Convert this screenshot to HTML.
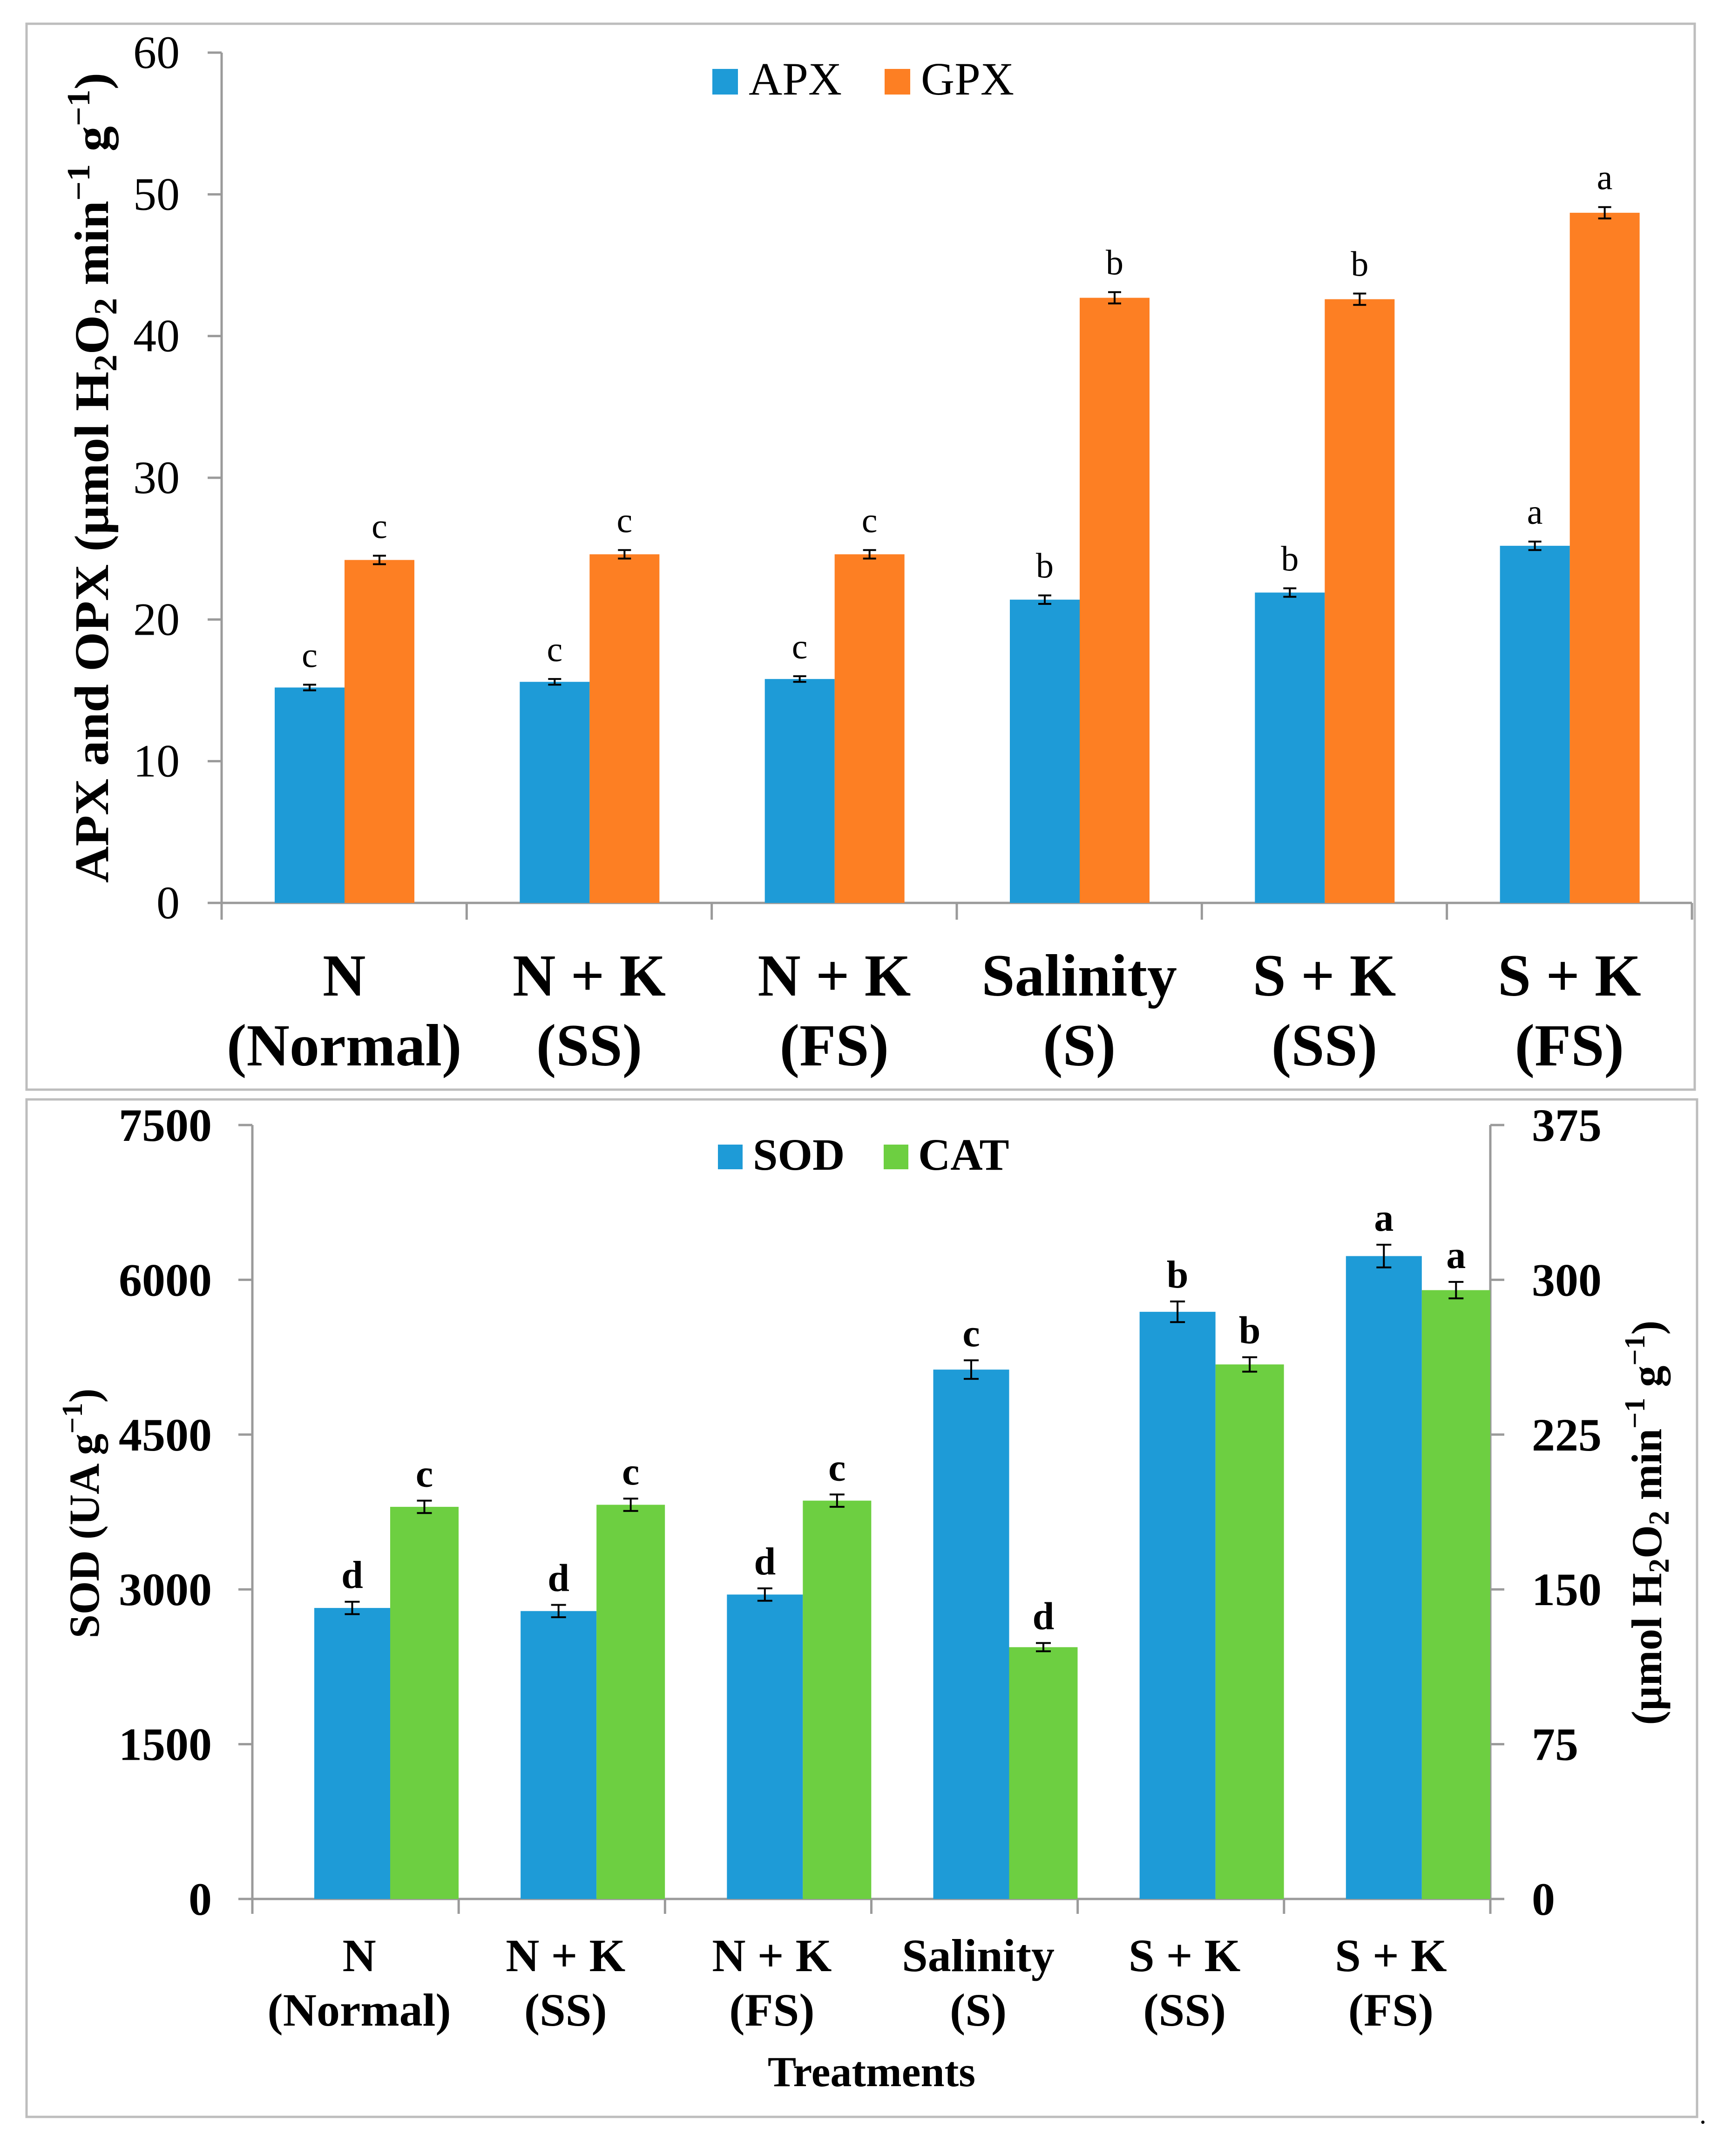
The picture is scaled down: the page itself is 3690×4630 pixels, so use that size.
<!DOCTYPE html>
<html><head><meta charset="utf-8"><style>
html,body{margin:0;padding:0;background:#fff;}
svg{display:block;font-family:"Liberation Serif","Times New Roman",serif;}
</style></head><body>
<svg id="fig" width="3690" height="4630" viewBox="0 0 3690 4630" xmlns="http://www.w3.org/2000/svg">
<rect x="57" y="51" width="3583" height="2289" fill="#fff" stroke="#bdbdbd" stroke-width="5"/>
<rect x="57" y="2361" width="3588" height="2185" fill="#fff" stroke="#bdbdbd" stroke-width="5"/>
<g id="top"></g>
<g id="bot"></g>
<text transform="translate(232,1026) rotate(-90)" text-anchor="middle" font-weight="bold" font-size="104" textLength="1740" lengthAdjust="spacingAndGlyphs">APX and OPX (µmol H<tspan font-size="70" dy="18">2</tspan><tspan dy="-18">O</tspan><tspan font-size="70" dy="18">2</tspan><tspan dy="-18"> min</tspan><tspan font-size="70" dy="-40">−1</tspan><tspan dy="40"> g</tspan><tspan font-size="70" dy="-40">−1</tspan><tspan dy="40">)</tspan></text>
<g>
<rect x="1530" y="148" width="55" height="55" fill="#1E9BD7"/>
<text x="1608" y="203" font-size="100">APX</text>
<rect x="1900" y="148" width="55" height="55" fill="#FD7F23"/>
<text x="1978" y="203" font-size="100">GPX</text>
</g>
<g>
<rect x="1542" y="2458" width="53" height="53" fill="#1E9BD7"/>
<text x="1617" y="2512" font-size="96" font-weight="bold">SOD</text>
<rect x="1898" y="2458" width="53" height="53" fill="#6DCF41"/>
<text x="1972" y="2512" font-size="96" font-weight="bold">CAT</text>
</g>
<text transform="translate(212,3250) rotate(-90)" text-anchor="middle" font-weight="bold" font-size="92">SOD (UA g<tspan font-size="62" dy="-36">−1</tspan><tspan dy="36">)</tspan></text>
<text transform="translate(3568,3270) rotate(-90)" text-anchor="middle" font-weight="bold" font-size="92">(µmol H<tspan font-size="62" dy="16">2</tspan><tspan dy="-16">O</tspan><tspan font-size="62" dy="16">2</tspan><tspan dy="-16"> min</tspan><tspan font-size="62" dy="-36">−1</tspan><tspan dy="36"> g</tspan><tspan font-size="62" dy="-36">−1</tspan><tspan dy="36">)</tspan></text>
<text x="1872" y="4480" text-anchor="middle" font-weight="bold" font-size="92">Treatments</text>
<text x="3650" y="4560" font-size="60">.</text>
</svg>
<script>
const categories1 = ["N","(Normal)"];
const catLine1 = ["N","N + K","N + K","Salinity","S + K","S + K"];
const catLine2 = ["(Normal)","(SS)","(FS)","(S)","(SS)","(FS)"];
const apxValues = [15.2, 15.6, 15.8, 21.4, 21.9, 25.2];
const apxErrors = [0.2, 0.2, 0.2, 0.3, 0.3, 0.3];
const apxLetters = ["c","c","c","b","b","a"];
const gpxValues = [24.2, 24.6, 24.6, 42.7, 42.6, 48.7];
const gpxErrors = [0.3, 0.3, 0.3, 0.4, 0.4, 0.4];
const gpxLetters = ["c","c","c","b","b","a"];
const topTicks = [0, 10, 20, 30, 40, 50, 60];
const sodValues = [2820, 2790, 2950, 5130, 5690, 6230];
const sodErrors = [60, 60, 60, 90, 100, 110];
const sodLetters = ["d","d","d","c","b","a"];
const catValues = [190, 191, 193, 122, 259, 295];
const catErrors = [3, 3, 3, 2, 3.5, 4];
const catLetters = ["c","c","c","d","b","a"];
const sodTicks = [0, 1500, 3000, 4500, 6000, 7500];
const catTicks = [0, 75, 150, 225, 300, 375];

const NS = "http://www.w3.org/2000/svg";
function mk(parent, tag, attrs, txt){
  const e = document.createElementNS(NS, tag);
  for (const k in attrs) e.setAttribute(k, attrs[k]);
  if (txt !== undefined) e.textContent = txt;
  parent.appendChild(e); return e;
}
const AX = "#9a9a9a";

// ---------- top chart ----------
(function(){
  const g = document.getElementById('top');
  const x0 = 476, x1 = 3634, y0 = 1939, yTop = 113, vmax = 60;
  const gw = (x1 - x0) / 6;
  const y = v => y0 - (v / vmax) * (y0 - yTop);
  let e;
  e = mk(g,'line',{x1:x0,y1:yTop,x2:x0,y2:y0+36,stroke:AX,'stroke-width':5});
   
  e = mk(g,'line',{x1:x0,y1:y0,x2:x1,y2:y0,stroke:AX,'stroke-width':5});
   
  topTicks.forEach(t=>{
    e = mk(g,'line',{x1:x0-30,y1:y(t),x2:x0,y2:y(t),stroke:AX,'stroke-width':5});
     
    e = mk(g,'text',{x:386,y:y(t)+33,'text-anchor':'end','font-size':100},String(t));
     
  });
  for (let i=1;i<=6;i++){
    e = mk(g,'line',{x1:x0+gw*i,y1:y0,x2:x0+gw*i,y2:y0+36,stroke:AX,'stroke-width':5});
     
  }
  const bw = 150, off = 114;
  function bar(i, v, err, letter, col, dx, name){
    const bx = x0 + gw*i + off + dx;
    e = mk(g,'rect',{x:bx,y:y(v),width:bw,height:y0-y(v),fill:col});
     
    const cx = bx + bw/2;
    const ya = y(v+err), yb = y(v-err);
    e = mk(g,'path',{d:`M${cx-14},${ya}H${cx+14}M${cx},${ya}V${yb}M${cx-14},${yb}H${cx+14}`,stroke:'#000','stroke-width':4,fill:'none'});
     
    e = mk(g,'text',{x:cx,y:ya-38,'text-anchor':'middle','font-size':76},letter);
     
  }
  for (let i=0;i<6;i++){
    bar(i, apxValues[i], apxErrors[i], apxLetters[i], '#1E9BD7', 0, 'apx-bar');
    bar(i, gpxValues[i], gpxErrors[i], gpxLetters[i], '#FD7F23', bw, 'gpx-bar');
    const cx = x0 + gw*(i+0.5);
    e = mk(g,'text',{x:cx,y:2138,'text-anchor':'middle','font-size':128,'font-weight':'bold'},catLine1[i]);
     
    e = mk(g,'text',{x:cx,y:2288,'text-anchor':'middle','font-size':128,'font-weight':'bold'},catLine2[i]);
     
  }
})();

// ---------- bottom chart ----------
(function(){
  const g = document.getElementById('bot');
  const x0 = 542, x1 = 3201, y0 = 4078, yTop = 2416;
  const gw = (x1 - x0) / 6;
  const yL = v => y0 - (v / 7500) * (y0 - yTop);
  const yR = v => y0 - (v / 375) * (y0 - yTop);
  let e;
  e = mk(g,'line',{x1:x0,y1:yTop,x2:x0,y2:y0+32,stroke:AX,'stroke-width':5});
   
  e = mk(g,'line',{x1:x1,y1:yTop,x2:x1,y2:y0+32,stroke:AX,'stroke-width':5});
   
  e = mk(g,'line',{x1:x0-30,y1:y0,x2:x1,y2:y0,stroke:AX,'stroke-width':5});
   
  sodTicks.forEach(t=>{
    e = mk(g,'line',{x1:x0-30,y1:yL(t),x2:x0,y2:yL(t),stroke:AX,'stroke-width':5});
     
    e = mk(g,'text',{x:455,y:yL(t)+34,'text-anchor':'end','font-size':100,'font-weight':'bold'},String(t));
     
  });
  catTicks.forEach(t=>{
    e = mk(g,'line',{x1:x1,y1:yR(t),x2:x1+30,y2:yR(t),stroke:AX,'stroke-width':5});
     
    e = mk(g,'text',{x:3290,y:yR(t)+34,'text-anchor':'start','font-size':100,'font-weight':'bold'},String(t));
     
  });
  for (let i=1;i<6;i++){
    e = mk(g,'line',{x1:x0+gw*i,y1:y0,x2:x0+gw*i,y2:y0+32,stroke:AX,'stroke-width':5});
     
  }
  function bar(bx, bw, ytop, ya, yb, letter, col, name){
    e = mk(g,'rect',{x:bx,y:ytop,width:bw,height:y0-ytop,fill:col});
     
    const cx = bx + bw/2;
    e = mk(g,'path',{d:`M${cx-16},${ya}H${cx+16}M${cx},${ya}V${yb}M${cx-16},${yb}H${cx+16}`,stroke:'#000','stroke-width':4,fill:'none'});
     
    e = mk(g,'text',{x:cx,y:ya-30,'text-anchor':'middle','font-size':84,'font-weight':'bold'},letter);
     
  }
  for (let i=0;i<6;i++){
    const gs = x0 + gw*i;
    bar(gs+133, 163, yL(sodValues[i]), yL(sodValues[i]+sodErrors[i]), yL(sodValues[i]-sodErrors[i]), sodLetters[i], '#1E9BD7', 'sod-bar');
    bar(gs+296, 147, yR(catValues[i]), yR(catValues[i]+catErrors[i]), yR(catValues[i]-catErrors[i]), catLetters[i], '#6DCF41', 'cat-bar');
    const cx = gs + gw*0.5 + 8;
    e = mk(g,'text',{x:cx,y:4233,'text-anchor':'middle','font-size':100,'font-weight':'bold'},catLine1[i]);
     
    e = mk(g,'text',{x:cx,y:4350,'text-anchor':'middle','font-size':100,'font-weight':'bold'},catLine2[i]);
     
  }
})();
</script>
</body></html>
